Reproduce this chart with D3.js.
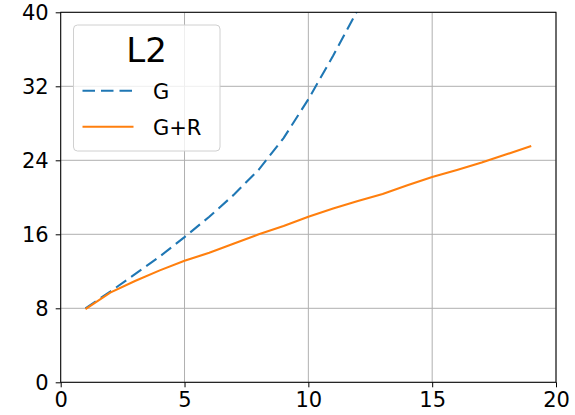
<!DOCTYPE html>
<html>
<head>
<meta charset="utf-8">
<script src="https://cdn.jsdelivr.net/npm/d3@7"></script>
<style>
  body { margin: 0; background: #fff; }
  svg { display: block; font-family: "DejaVu Sans", sans-serif; }
</style>
</head>
<body>
<div id="chart"></div>
<script>
// values
const xG = [1, 2, 3, 4, 5, 6, 7, 8, 9, 10, 11, 12];
const yG = [8.0, 9.8, 11.7, 13.6, 15.7, 17.9, 20.3, 23.0, 26.4, 30.6, 35.3, 40.3];
const xGR = [1, 2, 3, 4, 5, 6, 7, 8, 9, 10, 11, 12, 13, 14, 15, 16, 17, 18, 19];
const yGR = [7.9, 9.7, 10.95, 12.1, 13.15, 14.0, 15.0, 16.0, 16.9, 17.9, 18.8, 19.6, 20.35, 21.3, 22.2, 22.95, 23.75, 24.65, 25.55];
const xTicks = [0, 5, 10, 15, 20];
const yTicks = [0, 8, 16, 24, 32, 40];
const seriesNames = ["G", "G+R"];
const legendTitle = "L2";

const width = 575, height = 415;
const margin = { left: 60.7, right: 19, top: 12.3, bottom: 32.7 };

const svg = d3.select("#chart").append("svg")
  .attr("width", width)
  .attr("height", height);

const x = d3.scaleLinear().domain([0, 20]).range([margin.left, width - margin.right]);
const y = d3.scaleLinear().domain([0, 40]).range([height - margin.bottom, margin.top]);

svg.append("defs").append("clipPath").attr("id", "plot-clip")
  .append("rect")
  .attr("x", x(0)).attr("y", y(40))
  .attr("width", x(20) - x(0)).attr("height", y(0) - y(40));

// grid
const grid = svg.append("g").attr("class", "grid");
grid.selectAll("line.vx")
  .data(xTicks)
  .enter().append("line")
  .attr("x1", d => x(d)).attr("x2", d => x(d))
  .attr("y1", y(0)).attr("y2", y(40))
  .attr("stroke", "#b0b0b0").attr("stroke-width", 1);
grid.selectAll("line.hy")
  .data(yTicks)
  .enter().append("line")
  .attr("x1", x(0)).attr("x2", x(20))
  .attr("y1", d => y(d)).attr("y2", d => y(d))
  .attr("stroke", "#b0b0b0").attr("stroke-width", 1);

// lines
const line = d3.line().x(d => x(d[0])).y(d => y(d[1]));
const plot = svg.append("g").attr("clip-path", "url(#plot-clip)");

plot.append("path")
  .datum(xG.map((v, i) => [v, yG[i]]))
  .attr("d", line)
  .attr("fill", "none")
  .attr("stroke", "#1f77b4")
  .attr("stroke-width", 2.1)
  .attr("stroke-dasharray", "12.5,6");

plot.append("path")
  .datum(xGR.map((v, i) => [v, yGR[i]]))
  .attr("d", line)
  .attr("fill", "none")
  .attr("stroke", "#ff7f0e")
  .attr("stroke-width", 2.1);

// axes
const xAxis = svg.append("g")
  .attr("transform", `translate(0,${y(0)})`)
  .call(d3.axisBottom(x).tickValues(xTicks).tickSize(5).tickPadding(5));
const yAxis = svg.append("g")
  .attr("transform", `translate(${x(0)},0)`)
  .call(d3.axisLeft(y).tickValues(yTicks).tickSize(5).tickPadding(7));

[xAxis, yAxis].forEach(ax => {
  ax.selectAll("text").attr("font-size", "21px").attr("fill", "#000")
    .attr("font-family", "DejaVu Sans, sans-serif");
  ax.selectAll("line").attr("stroke", "#000");
  ax.select(".domain").remove();
});

// frame
svg.append("rect")
  .attr("x", x(0)).attr("y", y(40))
  .attr("width", x(20) - x(0)).attr("height", y(0) - y(40))
  .attr("fill", "none").attr("stroke", "#000").attr("stroke-width", 1);

// legend
const lg = svg.append("g").attr("class", "legend");
lg.append("rect")
  .attr("x", 73.5).attr("y", 25)
  .attr("width", 146.5).attr("height", 126)
  .attr("rx", 4).attr("ry", 4)
  .attr("fill", "#fff").attr("fill-opacity", 0.8)
  .attr("stroke", "#d0d0d0").attr("stroke-width", 1);

lg.append("text")
  .attr("x", 146.5).attr("y", 62)
  .attr("text-anchor", "middle")
  .attr("font-size", "34px")
  .text(legendTitle);

const legendRows = [
  { name: seriesNames[0], color: "#1f77b4", dash: "12.5,6", y: 90.7 },
  { name: seriesNames[1], color: "#ff7f0e", dash: null, y: 126.7 }
];
legendRows.forEach(r => {
  lg.append("line")
    .attr("x1", 82.5).attr("x2", 133.5)
    .attr("y1", r.y).attr("y2", r.y)
    .attr("stroke", r.color).attr("stroke-width", 2.1)
    .attr("stroke-dasharray", r.dash);
  lg.append("text")
    .attr("x", 153).attr("y", r.y + 8.5)
    .attr("font-size", "21px")
    .text(r.name);
});
</script>
</body>
</html>
